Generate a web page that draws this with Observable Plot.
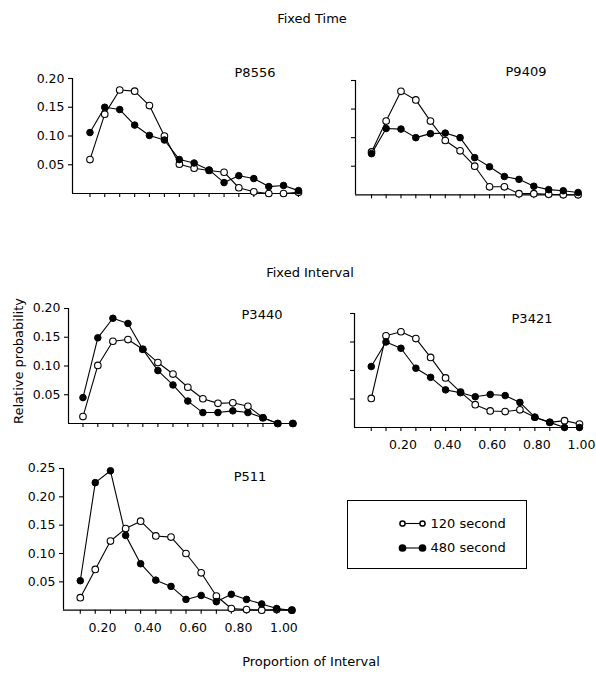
<!DOCTYPE html>
<html><head><meta charset="utf-8">
<script src="https://cdn.jsdelivr.net/npm/d3@7"></script>
<script src="https://cdn.jsdelivr.net/npm/@observablehq/plot@0.6"></script>
<style>
html,body{margin:0;padding:0;background:#fff;}
#fig{position:relative;width:596px;height:674px;overflow:hidden;font-family:"DejaVu Sans",sans-serif;color:#000;background:#fff;}
.t{position:absolute;font-size:13px;line-height:13px;white-space:nowrap;transform:translate(-50%,-50%);}
.p{position:absolute;}
</style></head><body><div id="fig"></div>
<script>
// ---------- data ----------
const proportion = [0.067, 0.133, 0.2, 0.267, 0.333, 0.4, 0.467, 0.533, 0.6, 0.667, 0.733, 0.8, 0.867, 0.933, 1.0];
const seriesNames = ["120 second", "480 second"];
const panelNames = ["P8556", "P9409", "P3440", "P3421", "P511"];
const sectionTitles = ["Fixed Time", "Fixed Interval"];
const xTitle = "Proportion of Interval";
const yTitle = "Relative probability";

const yTicks = [0.05, 0.10, 0.15, 0.20, 0.25];
const yTickLabels = ["0.05", "0.10", "0.15", "0.20", "0.25"];
const xLabelTicks = [0.2, 0.4, 0.6, 0.8, 1.0];
const xTickLabels = ["0.20", "0.40", "0.60", "0.80", "1.00"];

const p8556_120 = [0.059, 0.138, 0.180, 0.178, 0.153, 0.100, 0.051, 0.044, 0.040, 0.037, 0.010, 0.003, 0.000, 0.000, 0.002];
const p8556_480 = [0.106, 0.150, 0.146, 0.119, 0.101, 0.093, 0.059, 0.053, 0.041, 0.019, 0.031, 0.026, 0.012, 0.014, 0.005];
const p9409_120 = [0.075, 0.129, 0.181, 0.166, 0.129, 0.095, 0.077, 0.050, 0.014, 0.014, 0.002, 0.002, 0.001, 0.000, 0.000];
const p9409_480 = [0.072, 0.116, 0.115, 0.100, 0.107, 0.108, 0.100, 0.065, 0.049, 0.032, 0.027, 0.015, 0.009, 0.007, 0.004];
const p3440_120 = [0.012, 0.101, 0.143, 0.146, 0.129, 0.106, 0.086, 0.063, 0.043, 0.035, 0.036, 0.030, 0.010, 0.000, 0.000];
const p3440_480 = [0.045, 0.149, 0.183, 0.174, 0.129, 0.092, 0.067, 0.039, 0.019, 0.019, 0.022, 0.019, 0.010, 0.000, 0.000];
const p3421_120 = [0.051, 0.161, 0.168, 0.156, 0.123, 0.087, 0.062, 0.040, 0.029, 0.028, 0.031, 0.018, 0.009, 0.012, 0.006];
const p3421_480 = [0.107, 0.150, 0.139, 0.104, 0.088, 0.066, 0.061, 0.054, 0.058, 0.056, 0.044, 0.018, 0.009, 0.000, 0.000];
const p511_120  = [0.022, 0.072, 0.122, 0.144, 0.157, 0.131, 0.129, 0.100, 0.066, 0.025, 0.003, 0.001, 0.000, 0.001, 0.000];
const p511_480  = [0.052, 0.225, 0.246, 0.132, 0.082, 0.053, 0.042, 0.019, 0.026, 0.015, 0.028, 0.019, 0.011, 0.003, 0.000];

// ---------- layout (pixel geometry of each panel) ----------
const layout = [
  {s120: p8556_120, s480: p8556_480, axis: 71.5, x0: 74,    unit: 223.5, right: 300, base: 193,   top: 78,    ymax: 0.20, yLab: true,  xLab: false, lx: 255, ly: 72},
  {s120: p9409_120, s480: p9409_480, axis: 355,  x0: 356.2, unit: 221.4, right: 580, base: 194.3, top: 80,    ymax: 0.20, yLab: false, xLab: false, lx: 526, ly: 71},
  {s120: p3440_120, s480: p3440_480, axis: 68.3, x0: 67.7,  unit: 225,   right: 293.5, base: 423.3, top: 308.3, ymax: 0.20, yLab: true,  xLab: false, lx: 262, ly: 314},
  {s120: p3421_120, s480: p3421_480, axis: 354.3, x0: 356.1, unit: 223.2, right: 583, base: 426.7, top: 312.7, ymax: 0.20, yLab: false, xLab: true, xdx: 2, lx: 532, ly: 318},
  {s120: p511_120,  s480: p511_480,  axis: 63.3, x0: 64.9,  unit: 226.8, right: 293, base: 610,   top: 468.3, ymax: 0.25, yLab: true,  xLab: true, xdx: -8, lx: 250, ly: 476}
];

const fig = document.getElementById("fig");
function addText(txt, x, y, extra) {
  const d = document.createElement("div");
  d.className = "t";
  d.textContent = txt;
  d.style.left = x + "px";
  d.style.top = y + "px";
  if (extra) d.style.transform = extra;
  fig.appendChild(d);
}

layout.forEach((L, k) => {
  const ML = 45, MR = 10, MT = 15, MB = 28;
  const svgLeft = L.axis - ML, svgTop = L.top - MT;
  const width = (L.right - L.axis) + ML + MR;
  const height = (L.base - L.top) + MT + MB;
  const xa = (L.axis - L.x0) / L.unit, xb = (L.right - L.x0) / L.unit;
  const rows120 = proportion.map((x, i) => ({x, y: L.s120[i], s: seriesNames[0]}));
  const rows480 = proportion.map((x, i) => ({x, y: L.s480[i], s: seriesNames[1]}));
  const ticks = yTicks.filter(t => t <= L.ymax + 1e-9);
  const marks = [
    Plot.ruleY([0], {stroke: "black", strokeWidth: 1.2}),
    Plot.ruleX([xa], {stroke: "black", strokeWidth: 1.2}),
    Plot.axisY({ticks, tickSize: 4, tickPadding: 4, stroke: "black", strokeWidth: 1.1,
      tickFormat: d => L.yLab ? yTickLabels[yTicks.indexOf(d)] : ""}),
    Plot.axisX({ticks: proportion, tickSize: 4, stroke: "black", strokeWidth: 1.1, tickFormat: () => ""}),
  ];
  if (L.xLab) {
    marks.push(Plot.axisX({ticks: xLabelTicks, tickSize: 0, tickPadding: 13, dx: L.xdx,
      tickFormat: d => xTickLabels[xLabelTicks.indexOf(d)]}));
  }
  marks.push(
    Plot.line(rows120, {x: "x", y: "y", stroke: "black", strokeWidth: 1.1}),
    Plot.line(rows480, {x: "x", y: "y", stroke: "black", strokeWidth: 1.1}),
    Plot.dot(rows120, {x: "x", y: "y", r: 3.3, fill: "white", stroke: "black", strokeWidth: 1.1}),
    Plot.dot(rows480, {x: "x", y: "y", r: 3.3, fill: "black", stroke: "black", strokeWidth: 1})
  );
  const svg = Plot.plot({
    width, height,
    marginLeft: ML, marginRight: MR, marginTop: MT, marginBottom: MB,
    x: {domain: [xa, xb], label: null},
    y: {domain: [0, L.ymax], label: null},
    style: {background: "transparent", fontFamily: "DejaVu Sans", fontSize: "12.5px", color: "black", overflow: "visible"},
    marks
  });
  svg.classList.add("p");
  svg.style.left = svgLeft + "px";
  svg.style.top = svgTop + "px";
  fig.appendChild(svg);
  addText(panelNames[k], L.lx, L.ly);
});

// legend
const legendRows = [{label: seriesNames[0], cy: 22, fill: "white", r: 2.6}, {label: seriesNames[1], cy: 46.5, fill: "black", r: 3.1}];
const leg = Plot.plot({
  width: 178, height: 67, margin: 0,
  x: {type: "identity", axis: null}, y: {type: "identity", axis: null},
  r: {type: "identity"},
  style: {background: "white", fontFamily: "DejaVu Sans", fontSize: "13px", color: "black", overflow: "visible", border: "1px solid black"},
  marks: [
    Plot.ruleY(legendRows, {y: "cy", x1: () => 54, x2: () => 74, stroke: "black", strokeWidth: 1.1}),
    Plot.dot(legendRows, {x: () => 54, y: "cy", r: "r", fill: "fill", stroke: "black"}),
    Plot.dot(legendRows, {x: () => 74, y: "cy", r: "r", fill: "fill", stroke: "black"}),
    Plot.text(legendRows, {x: () => 82, y: "cy", text: "label", textAnchor: "start", fill: "black"})
  ]
});
leg.classList.add("p");
leg.style.left = "347px";
leg.style.top = "500px";
fig.appendChild(leg);

addText(sectionTitles[0], 312, 18);
addText(sectionTitles[1], 310, 272);
addText(xTitle, 311, 661);
addText(yTitle, 18, 361, "translate(-50%,-50%) rotate(-90deg)");
</script>
</body></html>
